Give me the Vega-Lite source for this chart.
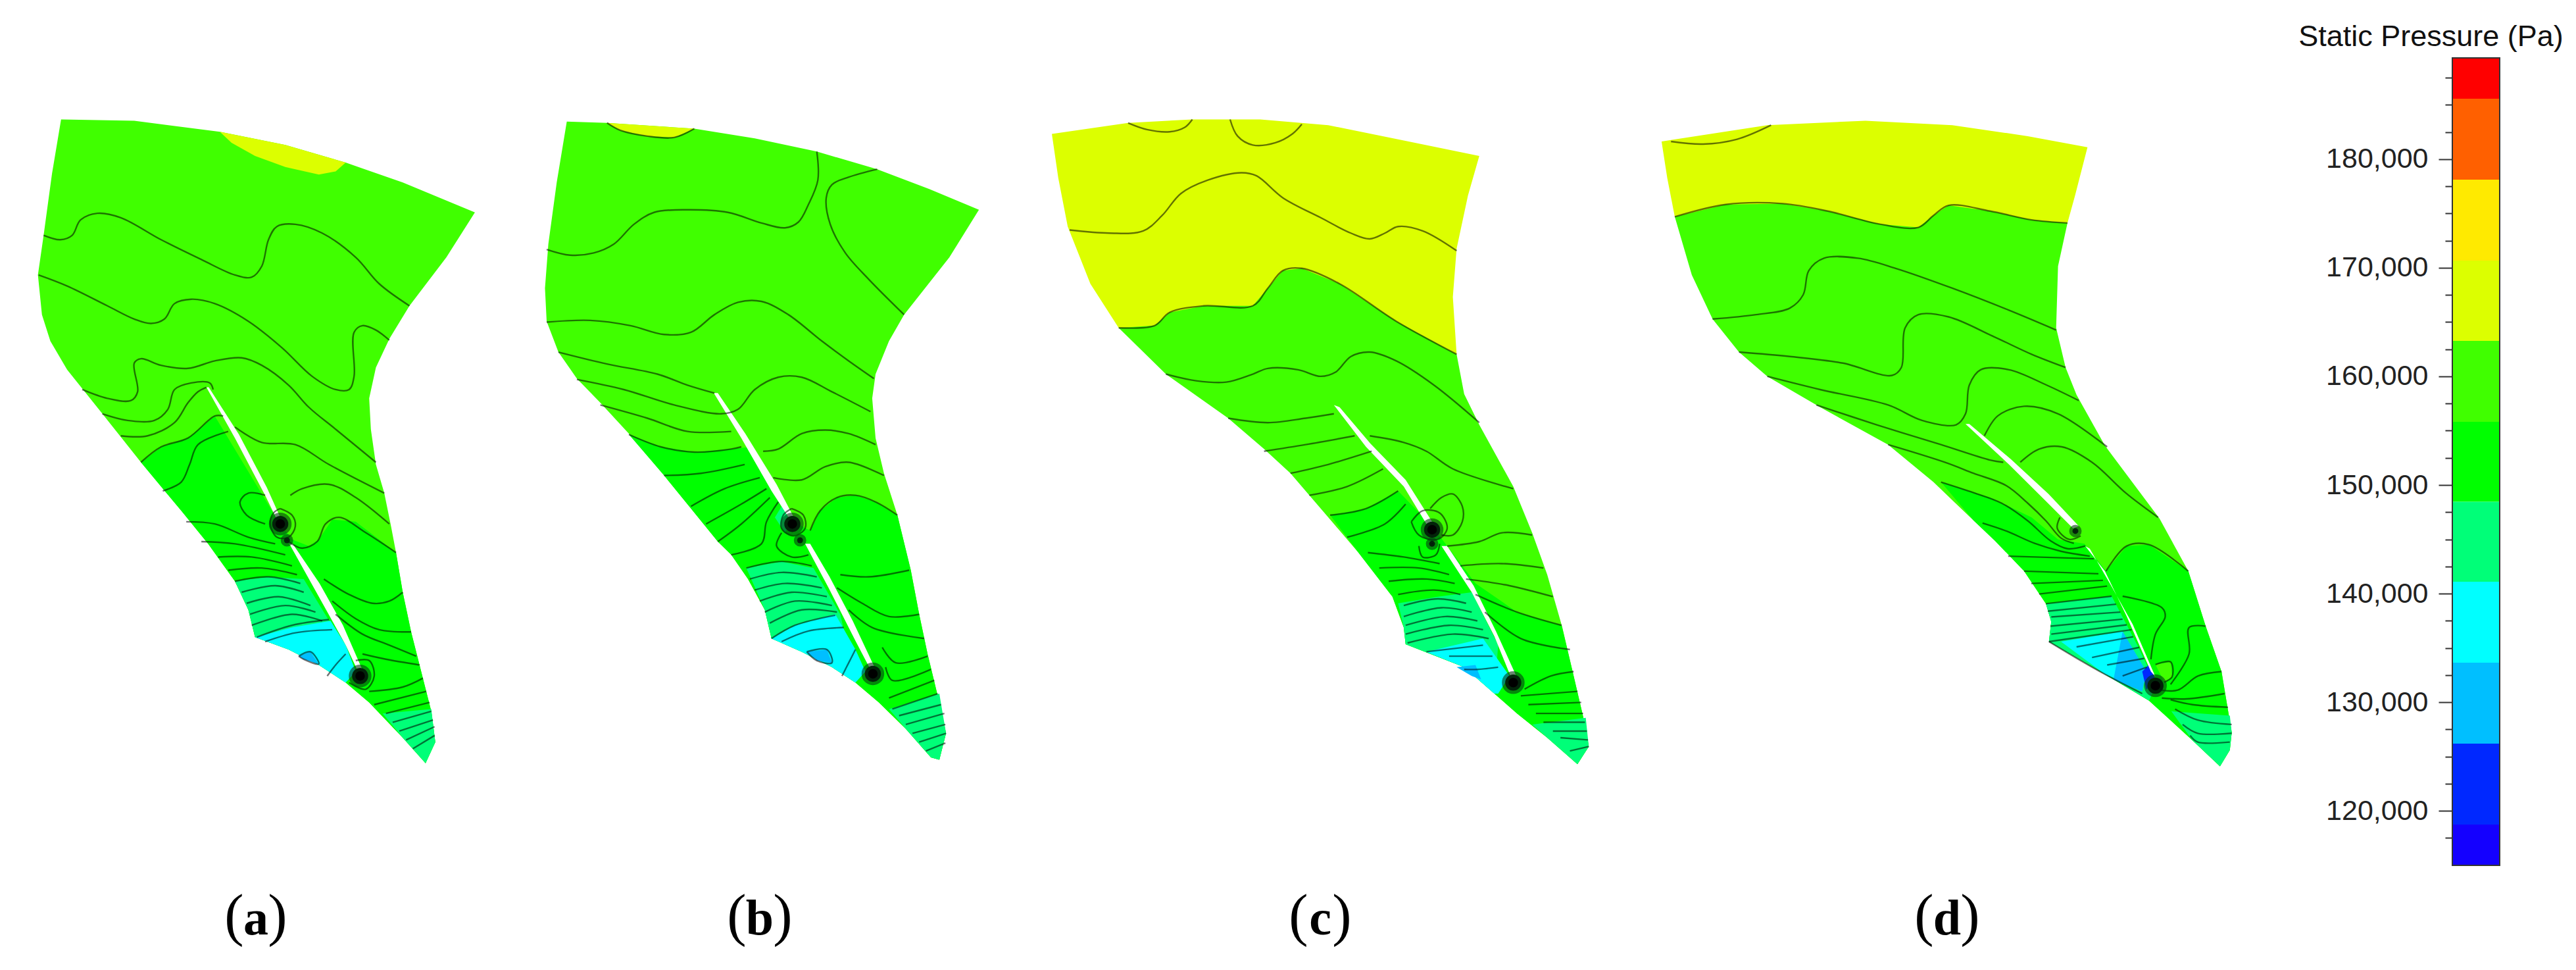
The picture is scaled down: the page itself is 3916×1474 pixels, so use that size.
{"$schema":"https://vega.github.io/schema/vega-lite/v6.json","width":3916,"height":1474,"padding":0,"autosize":{"type":"none"},"background":"white","config":{"view":{"stroke":null}},
"datasets":{
"aF":[
{"b":"160","x":182,"y":47},{"b":"160","x":400,"y":50},{"b":"160","x":655,"y":75},{"b":"160","x":850,"y":105},{"b":"160","x":1030,"y":145},{"b":"160","x":1200,"y":190},{"b":"160","x":1415,"y":258},{"b":"160","x":1330,"y":360},{"b":"160","x":1220,"y":470},{"b":"160","x":1160,"y":545},{"b":"160","x":1120,"y":610},{"b":"160","x":1100,"y":680},{"b":"160","x":1105,"y":750},{"b":"160","x":1120,"y":830},{"b":"160","x":1145,"y":895},{"b":"160","x":1165,"y":970},{"b":"160","x":1180,"y":1030},{"b":"160","x":1200,"y":1120},{"b":"160","x":1225,"y":1210},{"b":"160","x":1255,"y":1300},{"b":"160","x":1285,"y":1390},{"b":"160","x":1297,"y":1460},{"b":"160","x":1268,"y":1508},{"b":"160","x":1200,"y":1450},{"b":"160","x":1100,"y":1370},{"b":"160","x":1030,"y":1325},{"b":"160","x":950,"y":1285},{"b":"160","x":860,"y":1250},{"b":"160","x":760,"y":1222},{"b":"160","x":740,"y":1160},{"b":"160","x":700,"y":1095},{"b":"160","x":620,"y":1010},{"b":"160","x":540,"y":935},{"b":"160","x":420,"y":825},{"b":"160","x":300,"y":710},{"b":"160","x":200,"y":615},{"b":"160","x":150,"y":550},{"b":"160","x":125,"y":490},{"b":"160","x":113,"y":400},{"b":"160","x":130,"y":310},{"b":"160","x":155,"y":170},
{"b":"167","x":655,"y":75},{"b":"167","x":690,"y":100},{"b":"167","x":760,"y":130},{"b":"167","x":850,"y":155},{"b":"167","x":950,"y":172},{"b":"167","x":1000,"y":165},{"b":"167","x":1030,"y":145},{"b":"167","x":850,"y":105},
{"b":"152","x":420,"y":825},{"b":"152","x":480,"y":790},{"b":"152","x":560,"y":770},{"b":"152","x":640,"y":720},{"b":"152","x":830,"y":960},{"b":"152","x":870,"y":1000},{"b":"152","x":920,"y":1015},{"b":"152","x":950,"y":1000},{"b":"152","x":990,"y":955},{"b":"152","x":1060,"y":960},{"b":"152","x":1180,"y":1030},{"b":"152","x":1200,"y":1120},{"b":"152","x":1225,"y":1210},{"b":"152","x":1255,"y":1300},{"b":"152","x":1285,"y":1390},{"b":"152","x":1297,"y":1460},{"b":"152","x":1268,"y":1508},{"b":"152","x":1200,"y":1450},{"b":"152","x":1100,"y":1370},{"b":"152","x":1030,"y":1325},{"b":"152","x":950,"y":1285},{"b":"152","x":860,"y":1250},{"b":"152","x":760,"y":1222},{"b":"152","x":740,"y":1160},{"b":"152","x":700,"y":1095},{"b":"152","x":620,"y":1010},{"b":"152","x":540,"y":935},
{"b":"145","x":700,"y":1095},{"b":"145","x":800,"y":1085},{"b":"145","x":905,"y":1090},{"b":"145","x":985,"y":1190},{"b":"145","x":1030,"y":1325},{"b":"145","x":950,"y":1285},{"b":"145","x":860,"y":1250},{"b":"145","x":760,"y":1222},{"b":"145","x":740,"y":1160},
{"b":"145","g":2,"x":1140,"y":1395},{"b":"145","g":2,"x":1285,"y":1385},{"b":"145","g":2,"x":1297,"y":1460},{"b":"145","g":2,"x":1268,"y":1508},{"b":"145","g":2,"x":1200,"y":1450},
{"b":"137","x":760,"y":1222},{"b":"137","x":870,"y":1200},{"b":"137","x":985,"y":1185},{"b":"137","x":1030,"y":1240},{"b":"137","x":1060,"y":1300},{"b":"137","x":1030,"y":1325},{"b":"137","x":950,"y":1285},{"b":"137","x":860,"y":1250},
{"b":"130","x":890,"y":1265},{"b":"130","x":925,"y":1255},{"b":"130","x":950,"y":1283},{"b":"130","x":905,"y":1272},
{"b":"w","g":1,"x":615,"y":655},{"b":"w","g":1,"x":700,"y":770},{"b":"w","g":1,"x":790,"y":900},{"b":"w","g":1,"x":825,"y":955},{"b":"w","g":1,"x":835,"y":950},{"b":"w","g":1,"x":795,"y":882},{"b":"w","g":1,"x":712,"y":762},{"b":"w","g":1,"x":622,"y":655},
{"b":"w","g":2,"x":862,"y":1010},{"b":"w","g":2,"x":950,"y":1130},{"b":"w","g":2,"x":1030,"y":1240},{"b":"w","g":2,"x":1070,"y":1305},{"b":"w","g":2,"x":1082,"y":1300},{"b":"w","g":2,"x":1022,"y":1195},{"b":"w","g":2,"x":952,"y":1100},{"b":"w","g":2,"x":872,"y":1010}
],
"aL":[
{"s":1,"x":130,"y":310},{"s":1,"x":180,"y":320},{"s":1,"x":215,"y":310},{"s":1,"x":240,"y":275},{"s":1,"x":290,"y":260},{"s":1,"x":360,"y":270},{"s":1,"x":480,"y":320},{"s":1,"x":600,"y":365},{"s":1,"x":700,"y":400},{"s":1,"x":750,"y":405},{"s":1,"x":780,"y":380},{"s":1,"x":800,"y":320},{"s":1,"x":825,"y":290},{"s":1,"x":880,"y":285},{"s":1,"x":960,"y":305},{"s":1,"x":1060,"y":360},{"s":1,"x":1130,"y":420},{"s":1,"x":1220,"y":470},
{"s":2,"x":115,"y":400},{"s":2,"x":200,"y":425},{"s":2,"x":320,"y":470},{"s":2,"x":400,"y":500},{"s":2,"x":450,"y":510},{"s":2,"x":490,"y":500},{"s":2,"x":520,"y":465},{"s":2,"x":570,"y":455},{"s":2,"x":640,"y":465},{"s":2,"x":740,"y":505},{"s":2,"x":840,"y":565},{"s":2,"x":930,"y":630},{"s":2,"x":1000,"y":660},{"s":2,"x":1040,"y":660},{"s":2,"x":1055,"y":630},{"s":2,"x":1055,"y":530},{"s":2,"x":1080,"y":515},{"s":2,"x":1120,"y":525},{"s":2,"x":1160,"y":548},
{"s":3,"x":245,"y":660},{"s":3,"x":320,"y":680},{"s":3,"x":390,"y":685},{"s":3,"x":410,"y":665},{"s":3,"x":400,"y":600},{"s":3,"x":420,"y":590},{"s":3,"x":480,"y":605},{"s":3,"x":560,"y":612},{"s":3,"x":640,"y":595},{"s":3,"x":720,"y":588},{"s":3,"x":780,"y":605},{"s":3,"x":860,"y":650},{"s":3,"x":920,"y":700},{"s":3,"x":1000,"y":750},{"s":3,"x":1120,"y":825},
{"s":4,"x":305,"y":715},{"s":4,"x":380,"y":730},{"s":4,"x":460,"y":730},{"s":4,"x":500,"y":705},{"s":4,"x":520,"y":660},{"s":4,"x":570,"y":645},{"s":4,"x":625,"y":645},{"s":4,"x":635,"y":660},
{"s":5,"x":360,"y":765},{"s":5,"x":440,"y":765},{"s":5,"x":520,"y":735},{"s":5,"x":560,"y":690},{"s":5,"x":590,"y":665},{"s":5,"x":615,"y":655},
{"s":6,"x":420,"y":825},{"s":6,"x":480,"y":790},{"s":6,"x":560,"y":770},{"s":6,"x":640,"y":720},{"s":6,"x":665,"y":720},
{"s":7,"x":485,"y":890},{"s":7,"x":540,"y":870},{"s":7,"x":565,"y":830},{"s":7,"x":590,"y":785},{"s":7,"x":680,"y":755},
{"s":8,"x":700,"y":745},{"s":8,"x":780,"y":780},{"s":8,"x":880,"y":785},{"s":8,"x":980,"y":830},{"s":8,"x":1145,"y":895},
{"s":9,"x":1160,"y":965},{"s":9,"x":1060,"y":905},{"s":9,"x":980,"y":875},{"s":9,"x":900,"y":885},{"s":9,"x":865,"y":900},
{"s":10,"x":790,"y":900},{"s":10,"x":740,"y":895},{"s":10,"x":715,"y":915},{"s":10,"x":735,"y":945},{"s":10,"x":790,"y":965},
{"s":11,"x":555,"y":960},{"s":11,"x":640,"y":965},{"s":11,"x":740,"y":995},{"s":11,"x":820,"y":1010},
{"s":12,"x":1180,"y":1030},{"s":12,"x":1090,"y":985},{"s":12,"x":1010,"y":950},{"s":12,"x":970,"y":965},{"s":12,"x":945,"y":1005},{"s":12,"x":900,"y":1020},{"s":12,"x":860,"y":1005},
{"s":13,"x":600,"y":1005},{"s":13,"x":700,"y":1010},{"s":13,"x":850,"y":1035},
{"s":14,"x":650,"y":1040},{"s":14,"x":750,"y":1040},{"s":14,"x":870,"y":1060},
{"s":15,"x":680,"y":1070},{"s":15,"x":780,"y":1065},{"s":15,"x":885,"y":1080},
{"s":16,"x":700,"y":1095},{"s":16,"x":800,"y":1085},{"s":16,"x":895,"y":1100},
{"s":17,"x":720,"y":1120},{"s":17,"x":820,"y":1105},{"s":17,"x":905,"y":1120},
{"s":18,"x":735,"y":1145},{"s":18,"x":830,"y":1130},{"s":18,"x":925,"y":1150},
{"s":19,"x":745,"y":1170},{"s":19,"x":850,"y":1150},{"s":19,"x":940,"y":1165},
{"s":20,"x":750,"y":1195},{"s":20,"x":870,"y":1170},{"s":20,"x":960,"y":1185},
{"s":21,"x":765,"y":1222},{"s":21,"x":870,"y":1195},{"s":21,"x":980,"y":1182},
{"s":22,"x":790,"y":1232},{"s":22,"x":880,"y":1212},{"s":22,"x":990,"y":1205},
{"s":23,"x":890,"y":1265},{"s":23,"x":925,"y":1255},{"s":23,"x":950,"y":1283},{"s":23,"x":905,"y":1272},{"s":23,"x":890,"y":1265},
{"s":24,"x":975,"y":1310},{"s":24,"x":1000,"y":1285},{"s":24,"x":1030,"y":1260},
{"s":25,"x":965,"y":1090},{"s":25,"x":1040,"y":1125},{"s":25,"x":1110,"y":1145},{"s":25,"x":1160,"y":1140},{"s":25,"x":1200,"y":1120},
{"s":26,"x":990,"y":1140},{"s":26,"x":1060,"y":1180},{"s":26,"x":1130,"y":1205},{"s":26,"x":1225,"y":1210},
{"s":27,"x":1000,"y":1170},{"s":27,"x":1080,"y":1215},{"s":27,"x":1160,"y":1240},{"s":27,"x":1240,"y":1265},
{"s":28,"x":1080,"y":1260},{"s":28,"x":1150,"y":1272},{"s":28,"x":1250,"y":1285},
{"s":29,"x":1100,"y":1345},{"s":29,"x":1200,"y":1335},{"s":29,"x":1260,"y":1315},
{"s":30,"x":1115,"y":1375},{"s":30,"x":1270,"y":1345},
{"s":31,"x":1150,"y":1395},{"s":31,"x":1280,"y":1370},
{"s":32,"x":1170,"y":1415},{"s":32,"x":1285,"y":1390},
{"s":33,"x":1190,"y":1435},{"s":33,"x":1290,"y":1410},
{"s":34,"x":1210,"y":1455},{"s":34,"x":1295,"y":1425},
{"s":35,"x":1230,"y":1475},{"s":35,"x":1295,"y":1445},
{"s":36,"x":835,"y":930},{"s":36,"x":870,"y":945},{"s":36,"x":880,"y":970},{"s":36,"x":860,"y":995},{"s":36,"x":825,"y":995},{"s":36,"x":805,"y":965},{"s":36,"x":815,"y":940},{"s":36,"x":835,"y":930},
{"s":37,"x":1060,"y":1275},{"s":37,"x":1100,"y":1275},{"s":37,"x":1115,"y":1310},{"s":37,"x":1090,"y":1340},{"s":37,"x":1040,"y":1325}
],
"aD":[{"k":"major","x":835,"y":965},{"k":"major","x":1073,"y":1310},{"k":"minor","x":855,"y":1002}],
"bF":[
{"b":"160","x":160,"y":52},{"b":"160","x":280,"y":55},{"b":"160","x":540,"y":68},{"b":"160","x":720,"y":90},{"b":"160","x":905,"y":120},{"b":"160","x":1085,"y":160},{"b":"160","x":1240,"y":205},{"b":"160","x":1388,"y":252},{"b":"160","x":1300,"y":360},{"b":"160","x":1165,"y":490},{"b":"160","x":1120,"y":550},{"b":"160","x":1080,"y":625},{"b":"160","x":1070,"y":680},{"b":"160","x":1080,"y":770},{"b":"160","x":1105,"y":850},{"b":"160","x":1145,"y":945},{"b":"160","x":1185,"y":1070},{"b":"160","x":1210,"y":1170},{"b":"160","x":1235,"y":1260},{"b":"160","x":1270,"y":1370},{"b":"160","x":1290,"y":1440},{"b":"160","x":1270,"y":1500},{"b":"160","x":1245,"y":1495},{"b":"160","x":1170,"y":1430},{"b":"160","x":1090,"y":1370},{"b":"160","x":1020,"y":1325},{"b":"160","x":950,"y":1290},{"b":"160","x":860,"y":1255},{"b":"160","x":770,"y":1225},{"b":"160","x":750,"y":1160},{"b":"160","x":700,"y":1090},{"b":"160","x":650,"y":1035},{"b":"160","x":610,"y":1005},{"b":"160","x":530,"y":930},{"b":"160","x":450,"y":855},{"b":"160","x":345,"y":760},{"b":"160","x":260,"y":690},{"b":"160","x":190,"y":635},{"b":"160","x":135,"y":575},{"b":"160","x":100,"y":505},{"b":"160","x":95,"y":430},{"b":"160","x":105,"y":330},{"b":"160","x":130,"y":190},
{"b":"167","x":280,"y":55},{"b":"167","x":320,"y":72},{"b":"167","x":400,"y":85},{"b":"167","x":480,"y":88},{"b":"167","x":540,"y":68},
{"b":"152","x":345,"y":762},{"b":"152","x":440,"y":790},{"b":"152","x":540,"y":802},{"b":"152","x":650,"y":795},{"b":"152","x":715,"y":790},{"b":"152","x":835,"y":960},{"b":"152","x":885,"y":980},{"b":"152","x":915,"y":935},{"b":"152","x":965,"y":905},{"b":"152","x":1020,"y":900},{"b":"152","x":1080,"y":915},{"b":"152","x":1145,"y":945},{"b":"152","x":1185,"y":1070},{"b":"152","x":1210,"y":1170},{"b":"152","x":1235,"y":1260},{"b":"152","x":1270,"y":1370},{"b":"152","x":1290,"y":1440},{"b":"152","x":1270,"y":1500},{"b":"152","x":1245,"y":1495},{"b":"152","x":1170,"y":1430},{"b":"152","x":1090,"y":1370},{"b":"152","x":1020,"y":1325},{"b":"152","x":950,"y":1290},{"b":"152","x":860,"y":1255},{"b":"152","x":770,"y":1225},{"b":"152","x":750,"y":1160},{"b":"152","x":700,"y":1090},{"b":"152","x":650,"y":1035},{"b":"152","x":610,"y":1005},{"b":"152","x":530,"y":930},{"b":"152","x":450,"y":855},
{"b":"145","x":695,"y":1065},{"b":"145","x":800,"y":1050},{"b":"145","x":895,"y":1065},{"b":"145","x":975,"y":1170},{"b":"145","x":1020,"y":1325},{"b":"145","x":950,"y":1290},{"b":"145","x":860,"y":1255},{"b":"145","x":770,"y":1225},{"b":"145","x":750,"y":1160},
{"b":"145","g":2,"x":1120,"y":1385},{"b":"145","g":2,"x":1270,"y":1350},{"b":"145","g":2,"x":1290,"y":1440},{"b":"145","g":2,"x":1270,"y":1500},{"b":"145","g":2,"x":1245,"y":1495},{"b":"145","g":2,"x":1170,"y":1430},
{"b":"145","g":3,"x":780,"y":950},{"b":"145","g":3,"x":800,"y":925},{"b":"145","g":3,"x":830,"y":960},{"b":"145","g":3,"x":810,"y":985},
{"b":"137","x":770,"y":1225},{"b":"137","x":840,"y":1195},{"b":"137","x":960,"y":1170},{"b":"137","x":1020,"y":1250},{"b":"137","x":1050,"y":1300},{"b":"137","x":1020,"y":1325},{"b":"137","x":950,"y":1290},{"b":"137","x":860,"y":1255},
{"b":"130","x":875,"y":1255},{"b":"130","x":935,"y":1250},{"b":"130","x":950,"y":1280},{"b":"130","x":905,"y":1275},
{"b":"w","g":1,"x":598,"y":668},{"b":"w","g":1,"x":680,"y":770},{"b":"w","g":1,"x":770,"y":890},{"b":"w","g":1,"x":825,"y":955},{"b":"w","g":1,"x":835,"y":948},{"b":"w","g":1,"x":785,"y":875},{"b":"w","g":1,"x":692,"y":760},{"b":"w","g":1,"x":610,"y":668},
{"b":"w","g":2,"x":870,"y":1010},{"b":"w","g":2,"x":940,"y":1110},{"b":"w","g":2,"x":1020,"y":1230},{"b":"w","g":2,"x":1068,"y":1300},{"b":"w","g":2,"x":1080,"y":1295},{"b":"w","g":2,"x":1012,"y":1185},{"b":"w","g":2,"x":943,"y":1085},{"b":"w","g":2,"x":885,"y":1010}
],
"bL":[
{"s":1,"x":280,"y":55},{"s":1,"x":320,"y":72},{"s":1,"x":400,"y":85},{"s":1,"x":480,"y":88},{"s":1,"x":540,"y":68},
{"s":2,"x":905,"y":120},{"s":2,"x":908,"y":185},{"s":2,"x":880,"y":240},{"s":2,"x":850,"y":280},{"s":2,"x":810,"y":293},{"s":2,"x":740,"y":282},{"s":2,"x":640,"y":258},{"s":2,"x":520,"y":252},{"s":2,"x":420,"y":258},{"s":2,"x":360,"y":285},{"s":2,"x":300,"y":330},{"s":2,"x":240,"y":350},{"s":2,"x":170,"y":355},{"s":2,"x":100,"y":342},
{"s":3,"x":1085,"y":160},{"s":3,"x":1000,"y":178},{"s":3,"x":950,"y":195},{"s":3,"x":933,"y":225},{"s":3,"x":945,"y":285},{"s":3,"x":990,"y":350},{"s":3,"x":1060,"y":410},{"s":3,"x":1165,"y":490},
{"s":4,"x":100,"y":507},{"s":4,"x":230,"y":503},{"s":4,"x":350,"y":515},{"s":4,"x":450,"y":535},{"s":4,"x":530,"y":530},{"s":4,"x":600,"y":490},{"s":4,"x":670,"y":462},{"s":4,"x":740,"y":460},{"s":4,"x":820,"y":490},{"s":4,"x":920,"y":550},{"s":4,"x":1000,"y":595},{"s":4,"x":1075,"y":635},
{"s":5,"x":135,"y":575},{"s":5,"x":280,"y":602},{"s":5,"x":430,"y":625},{"s":5,"x":520,"y":650},{"s":5,"x":600,"y":668},
{"s":6,"x":190,"y":637},{"s":6,"x":330,"y":660},{"s":6,"x":480,"y":695},{"s":6,"x":620,"y":715},{"s":6,"x":670,"y":705},{"s":6,"x":720,"y":660},{"s":6,"x":790,"y":632},{"s":6,"x":860,"y":632},{"s":6,"x":950,"y":665},{"s":6,"x":1065,"y":710},
{"s":7,"x":260,"y":695},{"s":7,"x":400,"y":725},{"s":7,"x":520,"y":755},{"s":7,"x":650,"y":755},
{"s":8,"x":345,"y":762},{"s":8,"x":440,"y":790},{"s":8,"x":540,"y":802},{"s":8,"x":650,"y":795},{"s":8,"x":680,"y":790},
{"s":9,"x":745,"y":800},{"s":9,"x":790,"y":795},{"s":9,"x":860,"y":760},{"s":9,"x":930,"y":752},{"s":9,"x":1000,"y":760},{"s":9,"x":1080,"y":785},
{"s":10,"x":450,"y":855},{"s":10,"x":560,"y":850},{"s":10,"x":690,"y":830},
{"s":11,"x":775,"y":860},{"s":11,"x":860,"y":865},{"s":11,"x":930,"y":835},{"s":11,"x":1000,"y":825},{"s":11,"x":1105,"y":855},
{"s":12,"x":530,"y":925},{"s":12,"x":630,"y":885},{"s":12,"x":735,"y":860},
{"s":13,"x":575,"y":965},{"s":13,"x":680,"y":920},{"s":13,"x":755,"y":885},
{"s":14,"x":610,"y":1005},{"s":14,"x":680,"y":965},{"s":14,"x":765,"y":905},
{"s":15,"x":650,"y":1035},{"s":15,"x":740,"y":1010},{"s":15,"x":755,"y":960},{"s":15,"x":790,"y":915},
{"s":16,"x":885,"y":980},{"s":16,"x":915,"y":935},{"s":16,"x":965,"y":905},{"s":16,"x":1020,"y":900},{"s":16,"x":1080,"y":915},{"s":16,"x":1145,"y":945},
{"s":17,"x":800,"y":985},{"s":17,"x":785,"y":1015},{"s":17,"x":830,"y":1040},{"s":17,"x":880,"y":1035},
{"s":18,"x":695,"y":1065},{"s":18,"x":800,"y":1050},{"s":18,"x":890,"y":1060},
{"s":19,"x":705,"y":1090},{"s":19,"x":800,"y":1075},{"s":19,"x":905,"y":1085},
{"s":20,"x":720,"y":1115},{"s":20,"x":810,"y":1100},{"s":20,"x":920,"y":1110},
{"s":21,"x":735,"y":1140},{"s":21,"x":830,"y":1120},{"s":21,"x":935,"y":1130},
{"s":22,"x":750,"y":1165},{"s":22,"x":840,"y":1140},{"s":22,"x":950,"y":1150},
{"s":23,"x":765,"y":1190},{"s":23,"x":860,"y":1160},{"s":23,"x":965,"y":1165},
{"s":24,"x":770,"y":1225},{"s":24,"x":840,"y":1195},{"s":24,"x":960,"y":1172},
{"s":25,"x":800,"y":1232},{"s":25,"x":880,"y":1208},{"s":25,"x":985,"y":1200},
{"s":26,"x":875,"y":1255},{"s":26,"x":935,"y":1250},{"s":26,"x":950,"y":1280},{"s":26,"x":905,"y":1275},{"s":26,"x":875,"y":1255},
{"s":27,"x":980,"y":1310},{"s":27,"x":1000,"y":1280},{"s":27,"x":1020,"y":1250},
{"s":28,"x":975,"y":1080},{"s":28,"x":1060,"y":1085},{"s":28,"x":1180,"y":1070},
{"s":29,"x":965,"y":1110},{"s":29,"x":1040,"y":1145},{"s":29,"x":1120,"y":1175},{"s":29,"x":1210,"y":1170},
{"s":30,"x":1000,"y":1160},{"s":30,"x":1070,"y":1200},{"s":30,"x":1225,"y":1225},
{"s":31,"x":1100,"y":1245},{"s":31,"x":1140,"y":1280},{"s":31,"x":1235,"y":1265},
{"s":32,"x":1110,"y":1290},{"s":32,"x":1130,"y":1320},{"s":32,"x":1245,"y":1295},
{"s":33,"x":1120,"y":1360},{"s":33,"x":1255,"y":1320},
{"s":34,"x":1130,"y":1385},{"s":34,"x":1265,"y":1350},
{"s":35,"x":1150,"y":1400},{"s":35,"x":1275,"y":1375},
{"s":36,"x":1170,"y":1420},{"s":36,"x":1285,"y":1395},
{"s":37,"x":1190,"y":1440},{"s":37,"x":1288,"y":1420},
{"s":38,"x":1210,"y":1460},{"s":38,"x":1290,"y":1440},
{"s":39,"x":1230,"y":1480},{"s":39,"x":1288,"y":1462},
{"s":40,"x":830,"y":930},{"s":40,"x":865,"y":945},{"s":40,"x":870,"y":975},{"s":40,"x":835,"y":992},{"s":40,"x":800,"y":975},{"s":40,"x":805,"y":945},{"s":40,"x":830,"y":930}
],
"bD":[{"k":"major","x":832,"y":965},{"k":"major","x":1072,"y":1305},{"k":"minor","x":855,"y":1002}],
"cF":[
{"b":"167","x":68,"y":80},{"b":"167","x":270,"y":55},{"b":"167","x":440,"y":47},{"b":"167","x":620,"y":47},{"b":"167","x":800,"y":60},{"b":"167","x":1000,"y":95},{"b":"167","x":1200,"y":130},{"b":"167","x":1170,"y":220},{"b":"167","x":1140,"y":340},{"b":"167","x":1130,"y":450},{"b":"167","x":1140,"y":580},{"b":"167","x":245,"y":520},{"b":"167","x":170,"y":420},{"b":"167","x":110,"y":290},{"b":"167","x":85,"y":180},
{"b":"160","x":245,"y":520},{"b":"160","x":340,"y":515},{"b":"160","x":380,"y":485},{"b":"160","x":470,"y":470},{"b":"160","x":600,"y":470},{"b":"160","x":640,"y":430},{"b":"160","x":680,"y":390},{"b":"160","x":730,"y":385},{"b":"160","x":830,"y":420},{"b":"160","x":980,"y":505},{"b":"160","x":1140,"y":580},{"b":"160","x":1160,"y":670},{"b":"160","x":1200,"y":740},{"b":"160","x":1290,"y":880},{"b":"160","x":1340,"y":985},{"b":"160","x":1380,"y":1080},{"b":"160","x":1420,"y":1200},{"b":"160","x":1450,"y":1310},{"b":"160","x":1480,"y":1420},{"b":"160","x":1490,"y":1470},{"b":"160","x":1460,"y":1510},{"b":"160","x":1380,"y":1450},{"b":"160","x":1300,"y":1395},{"b":"160","x":1240,"y":1350},{"b":"160","x":1160,"y":1290},{"b":"160","x":1005,"y":1238},{"b":"160","x":1000,"y":1200},{"b":"160","x":970,"y":1130},{"b":"160","x":880,"y":1030},{"b":"160","x":810,"y":960},{"b":"160","x":700,"y":850},{"b":"160","x":630,"y":795},{"b":"160","x":535,"y":725},{"b":"160","x":370,"y":625},
{"b":"152","x":805,"y":945},{"b":"152","x":900,"y":930},{"b":"152","x":985,"y":890},{"b":"152","x":1075,"y":970},{"b":"152","x":1190,"y":1100},{"b":"152","x":1300,"y":1165},{"b":"152","x":1418,"y":1195},{"b":"152","x":1450,"y":1310},{"b":"152","x":1480,"y":1420},{"b":"152","x":1490,"y":1470},{"b":"152","x":1460,"y":1510},{"b":"152","x":1380,"y":1450},{"b":"152","x":1300,"y":1395},{"b":"152","x":1240,"y":1350},{"b":"152","x":1160,"y":1290},{"b":"152","x":1005,"y":1238},{"b":"152","x":1000,"y":1200},{"b":"152","x":970,"y":1130},{"b":"152","x":880,"y":1030},
{"b":"145","x":985,"y":1145},{"b":"145","x":1090,"y":1130},{"b":"145","x":1180,"y":1120},{"b":"145","x":1250,"y":1240},{"b":"145","x":1240,"y":1350},{"b":"145","x":1160,"y":1290},{"b":"145","x":1005,"y":1238},{"b":"145","x":1000,"y":1200},
{"b":"145","g":2,"x":1340,"y":1420},{"b":"145","g":2,"x":1482,"y":1405},{"b":"145","g":2,"x":1490,"y":1470},{"b":"145","g":2,"x":1460,"y":1510},{"b":"145","g":2,"x":1380,"y":1450},
{"b":"137","x":1060,"y":1255},{"b":"137","x":1210,"y":1225},{"b":"137","x":1280,"y":1310},{"b":"137","x":1250,"y":1350},{"b":"137","x":1240,"y":1350},{"b":"137","x":1160,"y":1290},
{"b":"130","x":1140,"y":1290},{"b":"130","x":1190,"y":1285},{"b":"130","x":1205,"y":1318},{"b":"130","x":1180,"y":1310},
{"b":"w","g":1,"x":815,"y":695},{"b":"w","g":1,"x":900,"y":790},{"b":"w","g":1,"x":1000,"y":880},{"b":"w","g":1,"x":1060,"y":965},{"b":"w","g":1,"x":1075,"y":960},{"b":"w","g":1,"x":1005,"y":865},{"b":"w","g":1,"x":912,"y":783},{"b":"w","g":1,"x":830,"y":700},
{"b":"w","g":2,"x":1100,"y":1015},{"b":"w","g":2,"x":1180,"y":1120},{"b":"w","g":2,"x":1240,"y":1220},{"b":"w","g":2,"x":1285,"y":1315},{"b":"w","g":2,"x":1298,"y":1310},{"b":"w","g":2,"x":1245,"y":1210},{"b":"w","g":2,"x":1185,"y":1105},{"b":"w","g":2,"x":1115,"y":1015}
],
"cL":[
{"s":1,"x":270,"y":55},{"s":1,"x":320,"y":70},{"s":1,"x":380,"y":75},{"s":1,"x":420,"y":65},{"s":1,"x":440,"y":47},
{"s":2,"x":540,"y":47},{"s":2,"x":560,"y":85},{"s":2,"x":600,"y":105},{"s":2,"x":660,"y":100},{"s":2,"x":705,"y":80},{"s":2,"x":730,"y":58},
{"s":3,"x":115,"y":298},{"s":3,"x":220,"y":305},{"s":3,"x":310,"y":300},{"s":3,"x":360,"y":265},{"s":3,"x":410,"y":215},{"s":3,"x":480,"y":185},{"s":3,"x":570,"y":168},{"s":3,"x":610,"y":175},{"s":3,"x":680,"y":225},{"s":3,"x":780,"y":270},{"s":3,"x":860,"y":305},{"s":3,"x":910,"y":318},{"s":3,"x":950,"y":305},{"s":3,"x":985,"y":290},{"s":3,"x":1050,"y":300},{"s":3,"x":1140,"y":345},
{"s":4,"x":245,"y":520},{"s":4,"x":340,"y":515},{"s":4,"x":380,"y":485},{"s":4,"x":470,"y":470},{"s":4,"x":600,"y":470},{"s":4,"x":640,"y":430},{"s":4,"x":680,"y":390},{"s":4,"x":730,"y":385},{"s":4,"x":830,"y":420},{"s":4,"x":980,"y":505},{"s":4,"x":1140,"y":580},
{"s":5,"x":370,"y":625},{"s":5,"x":450,"y":640},{"s":5,"x":530,"y":643},{"s":5,"x":600,"y":625},{"s":5,"x":640,"y":612},{"s":5,"x":720,"y":615},{"s":5,"x":780,"y":630},{"s":5,"x":820,"y":620},{"s":5,"x":860,"y":585},{"s":5,"x":910,"y":575},{"s":5,"x":980,"y":595},{"s":5,"x":1080,"y":650},{"s":5,"x":1200,"y":735},
{"s":6,"x":535,"y":725},{"s":6,"x":640,"y":735},{"s":6,"x":740,"y":725},{"s":6,"x":815,"y":715},
{"s":7,"x":630,"y":800},{"s":7,"x":740,"y":785},{"s":7,"x":870,"y":765},
{"s":8,"x":700,"y":850},{"s":8,"x":800,"y":830},{"s":8,"x":915,"y":800},
{"s":9,"x":750,"y":900},{"s":9,"x":850,"y":880},{"s":9,"x":945,"y":840},
{"s":10,"x":805,"y":945},{"s":10,"x":900,"y":930},{"s":10,"x":985,"y":890},
{"s":11,"x":850,"y":995},{"s":11,"x":950,"y":965},{"s":11,"x":1005,"y":920},
{"s":12,"x":910,"y":765},{"s":12,"x":1000,"y":780},{"s":12,"x":1060,"y":800},{"s":12,"x":1130,"y":840},{"s":12,"x":1290,"y":885},
{"s":13,"x":1070,"y":930},{"s":13,"x":1100,"y":905},{"s":13,"x":1130,"y":897},{"s":13,"x":1155,"y":925},{"s":13,"x":1155,"y":960},{"s":13,"x":1130,"y":990},{"s":13,"x":1100,"y":990},
{"s":14,"x":1020,"y":960},{"s":14,"x":1050,"y":935},{"s":14,"x":1095,"y":940},{"s":14,"x":1115,"y":975},{"s":14,"x":1090,"y":1000},{"s":14,"x":1040,"y":990},{"s":14,"x":1020,"y":960},
{"s":15,"x":1115,"y":1015},{"s":15,"x":1200,"y":1005},{"s":15,"x":1260,"y":985},{"s":15,"x":1340,"y":990},
{"s":16,"x":1150,"y":1060},{"s":16,"x":1260,"y":1055},{"s":16,"x":1370,"y":1065},
{"s":17,"x":1165,"y":1090},{"s":17,"x":1280,"y":1105},{"s":17,"x":1395,"y":1130},
{"s":18,"x":1190,"y":1125},{"s":18,"x":1300,"y":1165},{"s":18,"x":1418,"y":1195},
{"s":19,"x":1215,"y":1165},{"s":19,"x":1310,"y":1225},{"s":19,"x":1440,"y":1250},
{"s":20,"x":1320,"y":1340},{"s":20,"x":1390,"y":1310},{"s":20,"x":1450,"y":1300},
{"s":21,"x":905,"y":1030},{"s":21,"x":1000,"y":1040},{"s":21,"x":1095,"y":1055},
{"s":22,"x":935,"y":1065},{"s":22,"x":1040,"y":1065},{"s":22,"x":1120,"y":1080},
{"s":23,"x":960,"y":1095},{"s":23,"x":1060,"y":1090},{"s":23,"x":1135,"y":1100},
{"s":24,"x":985,"y":1125},{"s":24,"x":1080,"y":1115},{"s":24,"x":1150,"y":1125},
{"s":25,"x":1000,"y":1150},{"s":25,"x":1090,"y":1135},{"s":25,"x":1165,"y":1145},
{"s":26,"x":1000,"y":1175},{"s":26,"x":1100,"y":1155},{"s":26,"x":1180,"y":1165},
{"s":27,"x":1005,"y":1195},{"s":27,"x":1110,"y":1175},{"s":27,"x":1195,"y":1185},
{"s":28,"x":1005,"y":1215},{"s":28,"x":1120,"y":1195},{"s":28,"x":1210,"y":1205},
{"s":29,"x":1010,"y":1235},{"s":29,"x":1130,"y":1215},{"s":29,"x":1225,"y":1225},
{"s":30,"x":1060,"y":1255},{"s":30,"x":1210,"y":1240},
{"s":31,"x":1120,"y":1265},{"s":31,"x":1235,"y":1265},
{"s":32,"x":1160,"y":1295},{"s":32,"x":1195,"y":1295},{"s":32,"x":1250,"y":1290},
{"s":33,"x":1310,"y":1355},{"s":33,"x":1460,"y":1345},
{"s":34,"x":1330,"y":1375},{"s":34,"x":1470,"y":1370},
{"s":35,"x":1350,"y":1395},{"s":35,"x":1475,"y":1395},
{"s":36,"x":1370,"y":1415},{"s":36,"x":1480,"y":1415},
{"s":37,"x":1395,"y":1435},{"s":37,"x":1485,"y":1435},
{"s":38,"x":1415,"y":1450},{"s":38,"x":1488,"y":1455},
{"s":39,"x":1440,"y":1480},{"s":39,"x":1490,"y":1470},
{"s":40,"x":1040,"y":1015},{"s":40,"x":1050,"y":1040},{"s":40,"x":1085,"y":1035},{"s":40,"x":1095,"y":1010}
],
"cD":[{"k":"major","x":1075,"y":978},{"k":"major","x":1290,"y":1325},{"k":"minor","x":1075,"y":1010}],
"dF":[
{"b":"167","x":80,"y":97},{"b":"167","x":360,"y":60},{"b":"167","x":620,"y":50},{"b":"167","x":850,"y":60},{"b":"167","x":1050,"y":85},{"b":"167","x":1208,"y":110},{"b":"167","x":1175,"y":220},{"b":"167","x":1155,"y":282},{"b":"167","x":1060,"y":285},{"b":"167","x":760,"y":300},{"b":"167","x":400,"y":250},{"b":"167","x":115,"y":268},{"b":"167","x":95,"y":180},
{"b":"160","x":115,"y":268},{"b":"160","x":250,"y":240},{"b":"160","x":400,"y":238},{"b":"160","x":520,"y":255},{"b":"160","x":660,"y":285},{"b":"160","x":760,"y":292},{"b":"160","x":800,"y":265},{"b":"160","x":840,"y":242},{"b":"160","x":950,"y":255},{"b":"160","x":1060,"y":275},{"b":"160","x":1155,"y":282},{"b":"160","x":1130,"y":380},{"b":"160","x":1125,"y":520},{"b":"160","x":1150,"y":610},{"b":"160","x":1179,"y":672},{"b":"160","x":1254,"y":787},{"b":"160","x":1399,"y":953},{"b":"160","x":1475,"y":1072},{"b":"160","x":1521,"y":1197},{"b":"160","x":1563,"y":1300},{"b":"160","x":1590,"y":1438},{"b":"160","x":1585,"y":1478},{"b":"160","x":1559,"y":1515},{"b":"160","x":1486,"y":1456},{"b":"160","x":1371,"y":1366},{"b":"160","x":1254,"y":1306},{"b":"160","x":1106,"y":1232},{"b":"160","x":1112,"y":1187},{"b":"160","x":1098,"y":1146},{"b":"160","x":1040,"y":1072},{"b":"160","x":963,"y":1003},{"b":"160","x":906,"y":957},{"b":"160","x":800,"y":870},{"b":"160","x":680,"y":785},{"b":"160","x":500,"y":700},{"b":"160","x":360,"y":630},{"b":"160","x":285,"y":575},{"b":"160","x":215,"y":500},{"b":"160","x":160,"y":400},
{"b":"152","x":820,"y":870},{"b":"152","x":950,"y":905},{"b":"152","x":1060,"y":950},{"b":"152","x":1130,"y":1000},{"b":"152","x":1200,"y":1010},{"b":"152","x":1257,"y":1072},{"b":"152","x":1312,"y":1015},{"b":"152","x":1371,"y":1012},{"b":"152","x":1475,"y":1072},{"b":"152","x":1521,"y":1197},{"b":"152","x":1563,"y":1300},{"b":"152","x":1590,"y":1438},{"b":"152","x":1585,"y":1478},{"b":"152","x":1559,"y":1515},{"b":"152","x":1486,"y":1456},{"b":"152","x":1371,"y":1366},{"b":"152","x":1254,"y":1306},{"b":"152","x":1106,"y":1232},{"b":"152","x":1112,"y":1187},{"b":"152","x":1098,"y":1146},{"b":"152","x":1040,"y":1072},{"b":"152","x":963,"y":1003},{"b":"152","x":906,"y":957},
{"b":"145","x":1098,"y":1146},{"b":"145","x":1272,"y":1129},{"b":"145","x":1340,"y":1240},{"b":"145","x":1390,"y":1330},{"b":"145","x":1371,"y":1366},{"b":"145","x":1254,"y":1306},{"b":"145","x":1106,"y":1232},{"b":"145","x":1112,"y":1187},
{"b":"145","g":2,"x":1430,"y":1390},{"b":"145","g":2,"x":1585,"y":1400},{"b":"145","g":2,"x":1590,"y":1438},{"b":"145","g":2,"x":1585,"y":1478},{"b":"145","g":2,"x":1559,"y":1515},{"b":"145","g":2,"x":1486,"y":1456},
{"b":"137","x":1138,"y":1232},{"b":"137","x":1301,"y":1209},{"b":"137","x":1353,"y":1341},{"b":"137","x":1254,"y":1306},
{"b":"130","x":1301,"y":1209},{"b":"130","x":1364,"y":1300},{"b":"130","x":1353,"y":1345},{"b":"130","x":1277,"y":1318},
{"b":"122","x":1353,"y":1300},{"b":"122","x":1371,"y":1284},{"b":"122","x":1388,"y":1318},{"b":"122","x":1364,"y":1341},
{"b":"160","g":2,"x":1388,"y":1284},{"b":"160","g":2,"x":1428,"y":1278},{"b":"160","g":2,"x":1432,"y":1312},{"b":"160","g":2,"x":1411,"y":1324},
{"b":"w","g":1,"x":885,"y":738},{"b":"w","g":1,"x":1000,"y":830},{"b":"w","g":1,"x":1100,"y":915},{"b":"w","g":1,"x":1170,"y":975},{"b":"w","g":1,"x":1185,"y":970},{"b":"w","g":1,"x":1105,"y":897},{"b":"w","g":1,"x":1005,"y":818},{"b":"w","g":1,"x":895,"y":738},
{"b":"w","g":2,"x":1202,"y":1015},{"b":"w","g":2,"x":1254,"y":1072},{"b":"w","g":2,"x":1312,"y":1175},{"b":"w","g":2,"x":1376,"y":1300},{"b":"w","g":2,"x":1388,"y":1312},{"b":"w","g":2,"x":1328,"y":1193},{"b":"w","g":2,"x":1270,"y":1104},{"b":"w","g":2,"x":1214,"y":1021}
],
"dL":[
{"s":1,"x":105,"y":97},{"s":1,"x":190,"y":103},{"s":1,"x":280,"y":92},{"s":1,"x":370,"y":60},
{"s":2,"x":115,"y":268},{"s":2,"x":250,"y":240},{"s":2,"x":400,"y":238},{"s":2,"x":520,"y":255},{"s":2,"x":660,"y":285},{"s":2,"x":760,"y":292},{"s":2,"x":800,"y":265},{"s":2,"x":840,"y":242},{"s":2,"x":950,"y":255},{"s":2,"x":1060,"y":275},{"s":2,"x":1155,"y":282},
{"s":3,"x":215,"y":500},{"s":3,"x":330,"y":490},{"s":3,"x":420,"y":475},{"s":3,"x":455,"y":445},{"s":3,"x":470,"y":390},{"s":3,"x":510,"y":362},{"s":3,"x":600,"y":362},{"s":3,"x":700,"y":385},{"s":3,"x":850,"y":430},{"s":3,"x":1000,"y":480},{"s":3,"x":1125,"y":525},
{"s":4,"x":285,"y":575},{"s":4,"x":420,"y":585},{"s":4,"x":560,"y":600},{"s":4,"x":690,"y":628},{"s":4,"x":715,"y":610},{"s":4,"x":725,"y":520},{"s":4,"x":760,"y":490},{"s":4,"x":840,"y":495},{"s":4,"x":960,"y":540},{"s":4,"x":1060,"y":580},{"s":4,"x":1150,"y":610},
{"s":5,"x":360,"y":630},{"s":5,"x":500,"y":660},{"s":5,"x":680,"y":695},{"s":5,"x":770,"y":730},{"s":5,"x":860,"y":740},{"s":5,"x":885,"y":715},{"s":5,"x":895,"y":650},{"s":5,"x":925,"y":615},{"s":5,"x":1000,"y":615},{"s":5,"x":1100,"y":650},{"s":5,"x":1185,"y":685},
{"s":6,"x":490,"y":695},{"s":6,"x":650,"y":740},{"s":6,"x":820,"y":785},{"s":6,"x":950,"y":820},{"s":6,"x":985,"y":825},
{"s":7,"x":935,"y":765},{"s":7,"x":970,"y":720},{"s":7,"x":1040,"y":698},{"s":7,"x":1130,"y":715},{"s":7,"x":1260,"y":790},
{"s":8,"x":1030,"y":825},{"s":8,"x":1080,"y":795},{"s":8,"x":1140,"y":790},{"s":8,"x":1220,"y":825},{"s":8,"x":1310,"y":895},{"s":8,"x":1395,"y":950},
{"s":9,"x":680,"y":785},{"s":9,"x":830,"y":825},{"s":9,"x":906,"y":850},{"s":9,"x":993,"y":878},{"s":9,"x":1050,"y":918},{"s":9,"x":1098,"y":958},{"s":9,"x":1138,"y":997},{"s":9,"x":1172,"y":1009},
{"s":10,"x":820,"y":870},{"s":10,"x":906,"y":894},{"s":10,"x":981,"y":918},{"s":10,"x":1050,"y":958},{"s":10,"x":1110,"y":1003},{"s":10,"x":1155,"y":1021},{"s":10,"x":1202,"y":1015},
{"s":11,"x":930,"y":963},{"s":11,"x":993,"y":981},{"s":11,"x":1068,"y":1009},{"s":11,"x":1138,"y":1027},{"s":11,"x":1214,"y":1038},
{"s":12,"x":1135,"y":950},{"s":12,"x":1128,"y":975},{"s":12,"x":1160,"y":1000},{"s":12,"x":1190,"y":992},
{"s":13,"x":1257,"y":1072},{"s":13,"x":1312,"y":1015},{"s":13,"x":1371,"y":1012},{"s":13,"x":1475,"y":1072},
{"s":14,"x":1301,"y":1129},{"s":14,"x":1405,"y":1155},{"s":14,"x":1414,"y":1175},{"s":14,"x":1388,"y":1215},{"s":14,"x":1376,"y":1272},
{"s":15,"x":1521,"y":1197},{"s":15,"x":1477,"y":1200},{"s":15,"x":1477,"y":1260},{"s":15,"x":1428,"y":1329},
{"s":16,"x":1563,"y":1300},{"s":16,"x":1501,"y":1310},{"s":16,"x":1447,"y":1342},{"s":16,"x":1401,"y":1342},
{"s":17,"x":1571,"y":1350},{"s":17,"x":1470,"y":1362},{"s":17,"x":1405,"y":1360},
{"s":18,"x":1580,"y":1381},{"s":18,"x":1486,"y":1375},{"s":18,"x":1428,"y":1364},
{"s":19,"x":1590,"y":1420},{"s":19,"x":1500,"y":1410},{"s":19,"x":1440,"y":1385},
{"s":20,"x":1590,"y":1440},{"s":20,"x":1500,"y":1440},{"s":20,"x":1460,"y":1420},
{"s":21,"x":1585,"y":1460},{"s":21,"x":1500,"y":1460},{"s":21,"x":1480,"y":1445},
{"s":22,"x":998,"y":1038},{"s":22,"x":1225,"y":1044},
{"s":23,"x":1040,"y":1072},{"s":23,"x":1237,"y":1078},
{"s":24,"x":1059,"y":1100},{"s":24,"x":1249,"y":1093},
{"s":25,"x":1080,"y":1124},{"s":25,"x":1260,"y":1106},
{"s":26,"x":1098,"y":1146},{"s":26,"x":1272,"y":1129},
{"s":27,"x":1103,"y":1163},{"s":27,"x":1284,"y":1147},
{"s":28,"x":1112,"y":1176},{"s":28,"x":1295,"y":1165},
{"s":29,"x":1110,"y":1197},{"s":29,"x":1301,"y":1181},
{"s":30,"x":1112,"y":1215},{"s":30,"x":1312,"y":1194},
{"s":31,"x":1106,"y":1232},{"s":31,"x":1325,"y":1205},
{"s":32,"x":1179,"y":1244},{"s":32,"x":1329,"y":1221},
{"s":33,"x":1220,"y":1268},{"s":33,"x":1345,"y":1245},
{"s":34,"x":1260,"y":1285},{"s":34,"x":1358,"y":1270},
{"s":35,"x":1301,"y":1310},{"s":35,"x":1365,"y":1290},
{"s":36,"x":1106,"y":1232},{"s":36,"x":1180,"y":1270},{"s":36,"x":1254,"y":1306},{"s":36,"x":1353,"y":1350},
{"s":39,"x":1388,"y":1284},{"s":39,"x":1428,"y":1278},{"s":39,"x":1432,"y":1312},{"s":39,"x":1411,"y":1324}
],
"dD":[{"k":"major","x":1388,"y":1332},{"k":"minor","x":1176,"y":981}],
"par":[{"t":"(","x":356,"y":1420},{"t":")","x":422,"y":1420},{"t":"(","x":1120,"y":1420},{"t":")","x":1190,"y":1420},{"t":"(","x":1974,"y":1420},{"t":")","x":2040,"y":1420},{"t":"(","x":2925,"y":1420},{"t":")","x":2995,"y":1420}],
"let":[{"t":"a","x":389,"y":1420},{"t":"b","x":1155,"y":1420},{"t":"c","x":2007,"y":1420},{"t":"d","x":2960,"y":1420}],
"bar":[{"b":"188","lo":185576,"hi":189333},{"b":"182","lo":178121,"hi":185576},{"b":"174","lo":170667,"hi":178121},{"b":"167","lo":163273,"hi":170667},{"b":"160","lo":155818,"hi":163273},{"b":"152","lo":148455,"hi":155818},{"b":"145","lo":141091,"hi":148455},{"b":"137","lo":133636,"hi":141091},{"b":"130","lo":126182,"hi":133636},{"b":"122","lo":118727,"hi":126182},{"b":"117","lo":114970,"hi":118727}],
"frame":[{"lo":114970,"hi":189333}]
},
"layer":[
{"encoding":{"x":{"field":"x","type":"quantitative","axis":null,"scale":{"domain":[0,1568],"range":[0,800],"zero":false,"nice":false}},"y":{"field":"y","type":"quantitative","axis":null,"scale":{"domain":[0,1568],"range":[150,1200],"zero":false,"nice":false}}},
"layer":[
{"data":{"name":"aF"},"transform":[{"window":[{"op":"row_number","as":"i"}]}],"mark":{"type":"line","strokeWidth":0},"encoding":{"order":{"field":"i","type":"quantitative"},"detail":{"field":"g"},"fill":{"field":"b","type":"nominal","legend":null,"scale":{"domain":["188","182","174","167","160","152","145","137","130","122","117","w"],"range":["#ff0000","#ff6000","#ffea00","#dcff00","#40ff00","#00ff00","#00ff78","#00ffff","#00bfff","#0028ff","#1400ff","#ffffff"]}}}},
{"data":{"name":"aL"},"transform":[{"window":[{"op":"row_number","as":"i"}]}],"mark":{"type":"line","interpolate":"catmull-rom","color":"#000000","opacity":0.55,"strokeWidth":2.4},"encoding":{"order":{"field":"i","type":"quantitative"},"detail":{"field":"s"}}},
{"data":{"name":"aD"},"mark":{"type":"circle","color":"#000000","opacity":1,"stroke":"#053a10","strokeOpacity":0.6,"strokeWidth":10},"encoding":{"size":{"field":"k","type":"nominal","legend":null,"scale":{"domain":["major","minor"],"range":[600,80]}}}}
]},
{"encoding":{"x":{"field":"x","type":"quantitative","axis":null,"scale":{"domain":[0,1568],"range":[780,1580],"zero":false,"nice":false}},"y":{"field":"y","type":"quantitative","axis":null,"scale":{"domain":[0,1568],"range":[150,1200],"zero":false,"nice":false}}},
"layer":[
{"data":{"name":"bF"},"transform":[{"window":[{"op":"row_number","as":"i"}]}],"mark":{"type":"line","strokeWidth":0},"encoding":{"order":{"field":"i","type":"quantitative"},"detail":{"field":"g"},"fill":{"field":"b","type":"nominal","legend":null,"scale":{"domain":["188","182","174","167","160","152","145","137","130","122","117","w"],"range":["#ff0000","#ff6000","#ffea00","#dcff00","#40ff00","#00ff00","#00ff78","#00ffff","#00bfff","#0028ff","#1400ff","#ffffff"]}}}},
{"data":{"name":"bL"},"transform":[{"window":[{"op":"row_number","as":"i"}]}],"mark":{"type":"line","interpolate":"catmull-rom","color":"#000000","opacity":0.55,"strokeWidth":2.4},"encoding":{"order":{"field":"i","type":"quantitative"},"detail":{"field":"s"}}},
{"data":{"name":"bD"},"mark":{"type":"circle","color":"#000000","opacity":1,"stroke":"#053a10","strokeOpacity":0.6,"strokeWidth":10},"encoding":{"size":{"field":"k","type":"nominal","legend":null,"scale":{"domain":["major","minor"],"range":[600,80]}}}}
]},
{"encoding":{"x":{"field":"x","type":"quantitative","axis":null,"scale":{"domain":[0,1568],"range":[1560,2460],"zero":false,"nice":false}},"y":{"field":"y","type":"quantitative","axis":null,"scale":{"domain":[0,1568],"range":[150,1200],"zero":false,"nice":false}}},
"layer":[
{"data":{"name":"cF"},"transform":[{"window":[{"op":"row_number","as":"i"}]}],"mark":{"type":"line","strokeWidth":0},"encoding":{"order":{"field":"i","type":"quantitative"},"detail":{"field":"g"},"fill":{"field":"b","type":"nominal","legend":null,"scale":{"domain":["188","182","174","167","160","152","145","137","130","122","117","w"],"range":["#ff0000","#ff6000","#ffea00","#dcff00","#40ff00","#00ff00","#00ff78","#00ffff","#00bfff","#0028ff","#1400ff","#ffffff"]}}}},
{"data":{"name":"cL"},"transform":[{"window":[{"op":"row_number","as":"i"}]}],"mark":{"type":"line","interpolate":"catmull-rom","color":"#000000","opacity":0.55,"strokeWidth":2.4},"encoding":{"order":{"field":"i","type":"quantitative"},"detail":{"field":"s"}}},
{"data":{"name":"cD"},"mark":{"type":"circle","color":"#000000","opacity":1,"stroke":"#053a10","strokeOpacity":0.6,"strokeWidth":10},"encoding":{"size":{"field":"k","type":"nominal","legend":null,"scale":{"domain":["major","minor"],"range":[600,80]}}}}
]},
{"encoding":{"x":{"field":"x","type":"quantitative","axis":null,"scale":{"domain":[0,1568],"range":[2480,3380],"zero":false,"nice":false}},"y":{"field":"y","type":"quantitative","axis":null,"scale":{"domain":[0,1568],"range":[150,1200],"zero":false,"nice":false}}},
"layer":[
{"data":{"name":"dF"},"transform":[{"window":[{"op":"row_number","as":"i"}]}],"mark":{"type":"line","strokeWidth":0},"encoding":{"order":{"field":"i","type":"quantitative"},"detail":{"field":"g"},"fill":{"field":"b","type":"nominal","legend":null,"scale":{"domain":["188","182","174","167","160","152","145","137","130","122","117","w"],"range":["#ff0000","#ff6000","#ffea00","#dcff00","#40ff00","#00ff00","#00ff78","#00ffff","#00bfff","#0028ff","#1400ff","#ffffff"]}}}},
{"data":{"name":"dL"},"transform":[{"window":[{"op":"row_number","as":"i"}]}],"mark":{"type":"line","interpolate":"catmull-rom","color":"#000000","opacity":0.55,"strokeWidth":2.4},"encoding":{"order":{"field":"i","type":"quantitative"},"detail":{"field":"s"}}},
{"data":{"name":"dD"},"mark":{"type":"circle","color":"#000000","opacity":1,"stroke":"#053a10","strokeOpacity":0.6,"strokeWidth":10},"encoding":{"size":{"field":"k","type":"nominal","legend":null,"scale":{"domain":["major","minor"],"range":[800,80]}}}}
]},
{"encoding":{"x":{"field":"x","type":"quantitative","axis":null,"scale":{"domain":[0,3916],"range":[0,3916],"zero":false,"nice":false}},"y":{"field":"y","type":"quantitative","axis":null,"scale":{"domain":[0,1474],"range":[0,1474],"zero":false,"nice":false}},"text":{"field":"t"}},
"layer":[
{"data":{"name":"par"},"mark":{"type":"text","font":"Liberation Serif","fontSize":88,"baseline":"alphabetic","align":"center","color":"#000000"}},
{"data":{"name":"let"},"mark":{"type":"text","font":"Liberation Serif","fontWeight":"bold","fontSize":76,"baseline":"alphabetic","align":"center","color":"#000000"}}
]},
{"encoding":{"x":{"datum":0,"type":"quantitative","axis":null,"scale":{"domain":[0,1],"range":[3728,3800],"zero":false,"nice":false}},"x2":{"datum":1},"y":{"field":"lo","type":"quantitative","scale":{"domain":[114970,189333],"range":[1315,88],"zero":false,"nice":false},"axis":{"orient":"left","offset":-3728,"domain":false,"grid":false,"values":[117500,120000,122500,125000,127500,130000,132500,135000,137500,140000,142500,145000,147500,150000,152500,155000,157500,160000,162500,165000,167500,170000,172500,175000,177500,180000,182500,185000,187500],"tickColor":"#333333","tickWidth":2,"tickSize":{"condition":{"test":"datum.value % 10000 === 0","value":21},"value":11},"labelExpr":"datum.value % 10000 === 0 ? format(datum.value, ',') : ''","labelFont":"Liberation Sans","labelFontSize":43,"labelColor":"#222222","labelPadding":16,"labelOverlap":false,"labelFlush":false,"title":"Static Pressure (Pa)","titleFont":"Liberation Sans","titleFontSize":45,"titleFontWeight":"normal","titleColor":"#111111","titleAngle":0,"titleAlign":"center","titleBaseline":"alphabetic","titleX":-33,"titleY":69}},"y2":{"field":"hi"}},
"layer":[
{"data":{"name":"bar"},"mark":{"type":"rect"},"encoding":{"fill":{"field":"b","type":"nominal","legend":null,"scale":{"domain":["188","182","174","167","160","152","145","137","130","122","117","w"],"range":["#ff0000","#ff6000","#ffea00","#dcff00","#40ff00","#00ff00","#00ff78","#00ffff","#00bfff","#0028ff","#1400ff","#ffffff"]}}}},
{"data":{"name":"frame"},"mark":{"type":"rect","filled":false,"stroke":"#333333","strokeWidth":2}}
]}
],
"resolve":{"scale":{"x":"independent","y":"independent"},"axis":{"x":"independent","y":"independent"}}
}
